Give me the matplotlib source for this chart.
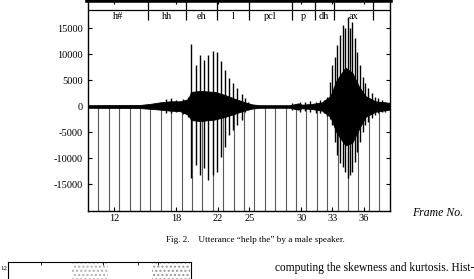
#### ライブラリのインポート ####
import numpy as np
import matplotlib.pyplot as plt
from matplotlib.patches import Rectangle

plt.rcParams["font.family"] = ["Liberation Serif", "DejaVu Serif"]
plt.rcParams["axes.unicode_minus"] = False

#### データ ####
# phoneme segments (frame units) and labels
seg_edges = [9.5, 15.25, 18.9, 21.9, 25.0, 29.1, 31.3, 33.1, 36.9, 38.5]
seg_labels = ["h#", "hh", "eh", "l", "pcl", "p", "dh", "ax", ""]

# frame boundary lines
frame_lines = [10.5, 11.5, 12.5, 13.5, 14.5, 15.5, 16.5, 17.5, 18.5, 19.5,
               20.5, 21.5, 22.5, 23.5, 24.5, 25.5, 26.5, 27.5, 28.5, 29.5,
               30.5, 31.5, 32.5, 33.5, 34.5, 35.5, 36.5, 37.5]

# frame number ticks
frame_ticks = [12, 18, 22, 25, 30, 33, 36]
amp_ticks = [-15000, -10000, -5000, 0, 5000, 10000, 15000]

# envelope of the dense part of the waveform
env_frame = [9.5, 14.5, 15.47, 16.43, 17.39, 18.36, 19.12, 19.41, 20.28, 21.7,
             22.68, 23.6, 24.61, 25.28, 26.05, 28.93, 29.7, 30.08, 31.04, 32.0,
             32.8, 33.38, 34.24, 34.9, 35.5, 36.17, 37.13, 38.5]
env_hi = [250, 300, 500, 800, 1000, 1000, 1400, 2800, 3000, 2800,
          2200, 1500, 800, 400, 250, 250, 600, 350, 500, 800,
          2000, 5000, 7500, 6500, 4000, 2000, 1000, 700]
env_lo = [-250, -300, -450, -600, -800, -900, -1600, -2600, -2800, -2500,
          -2000, -1400, -700, -400, -250, -250, -600, -350, -500, -800,
          -2000, -5000, -7500, -7000, -4500, -2000, -1000, -600]

# pitch pulses: position, positive peak, negative peak
pulse_frame = [17.01, 17.49, 17.97, 18.64, 19.12,
               19.41, 19.87, 20.28, 20.69, 21.08, 21.50, 21.88, 22.27, 22.68,
               23.10, 23.48, 23.87, 24.29, 24.61, 24.92,
               29.1, 29.9, 30.38, 30.86, 31.44, 31.82, 32.14, 32.47,
               32.78, 33.0, 33.26, 33.48, 33.74, 34.0, 34.22, 34.48, 34.70,
               34.92, 35.18, 35.40, 35.66, 35.92, 36.14, 36.46, 36.79, 37.11,
               37.42, 37.75, 38.07]
pulse_hi = [1500, 1600, 1300, 1500, 1900,
            11960, 7980, 9900, 8940, 9900, 10670, 10420, 8750, 7020,
            5420, 4460, 3500, 2350, 1580, 920,
            600, 920, 900, 1000, 800, 1300, 1250, 1880,
            4770, 7980, 9580, 11830, 13750, 15670, 15040, 17270, 15040,
            16310, 13110, 10540, 7980, 5730, 4460, 3500, 2540, 1880,
            1580, 1250, 920]
pulse_lo = [-1200, -1300, -1000, -1500, -2000,
            -13800, -11250, -13170, -11880, -14130, -13170, -12530, -9650, -7720,
            -5480, -4520, -3560, -2600, -1000, -700,
            -700, -1000, -900, -1000, -1200, -1300, -1250, -1900,
            -2500, -3560, -6770, -9330, -10920, -11580, -12540, -13810, -13170,
            -12540, -10610, -8690, -6770, -4840, -3560, -2900, -2270, -1630,
            -1310, -1000, -1000]

#### 図の作成 ####
fig = plt.figure(figsize=(4.74, 2.79), dpi=100)
ax = fig.add_axes([88 / 474, 1 - 211 / 279, 301.7 / 474, 211 / 279])

y_bottom, y_top = -20100, 20480
band_line = 18558
band_low = 16635

# frame lines from zero to the bottom
ax.vlines(frame_lines, y_bottom, 0, color="0.35", lw=0.8, zorder=1)

# waveform
ax.fill_between(env_frame, env_lo, env_hi, color="black", lw=0.6, zorder=2)
ax.vlines(pulse_frame, pulse_lo, pulse_hi, color="black", lw=1.0, zorder=3)

# phoneme band at the top
ax.axhline(band_line, color="black", lw=0.9)
ax.vlines(seg_edges[1:-1], band_low, y_top, color="black", lw=0.9)
for i, lab in enumerate(seg_labels):
    xc = (seg_edges[i] + seg_edges[i + 1]) / 2
    ax.text(xc, 17300, lab, ha="center", va="center", fontsize=7.5)

# axes setting
ax.set_xlim(seg_edges[0], seg_edges[-1])
ax.set_ylim(y_bottom, y_top)
ax.set_xticks(frame_ticks)
ax.set_yticks(amp_ticks)
ax.tick_params(direction="in", top=True, right=True, length=3, width=0.8,
               labelsize=7.5)
ax.tick_params(axis="x", pad=2.5)
ax.tick_params(axis="y", pad=4)
for s in ax.spines.values():
    s.set_linewidth(1.0)
ax.spines["top"].set_linewidth(4)

#### 文字 ####
fig.text(412 / 474, 1 - 213.5 / 279, "Frame No.", style="italic",
         fontsize=8.5, va="center", ha="left")
fig.text(166 / 474, 1 - 240 / 279,
         "Fig. 2.    Utterance \u201chelp the\u201d by a male speaker.",
         fontsize=6.6, va="center", ha="left")
fig.text(275 / 474, 1 - 268 / 279,
         "computing the skewness and kurtosis. Hist-",
         fontsize=8.3, va="center", ha="left")

#### 下の図 (一部) ####
ax2 = fig.add_axes([8 / 474, -0.1, 183 / 474, 17 / 279 + 0.1])
ax2.set_xlim(0, 183)
ax2.set_ylim(0, 1)
ax2.set_xticks([33, 95, 130, 150])
ax2.set_yticks([])
ax2.tick_params(direction="in", top=True, bottom=False, labelbottom=False,
                length=2, width=0.6)
for s in ax2.spines.values():
    s.set_linewidth(0.8)
ax2.add_patch(Rectangle((64, 0), 36, 1, fill=False, hatch="....",
                        edgecolor="0.7", lw=0))
ax2.add_patch(Rectangle((144, 0), 38, 1, fill=False, hatch="....",
                        edgecolor="0.6", lw=0))
fig.text(0.5 / 474, 1 - 269 / 279, "12", fontsize=5, ha="left", va="center")

plt.savefig("out.png", dpi=100)
